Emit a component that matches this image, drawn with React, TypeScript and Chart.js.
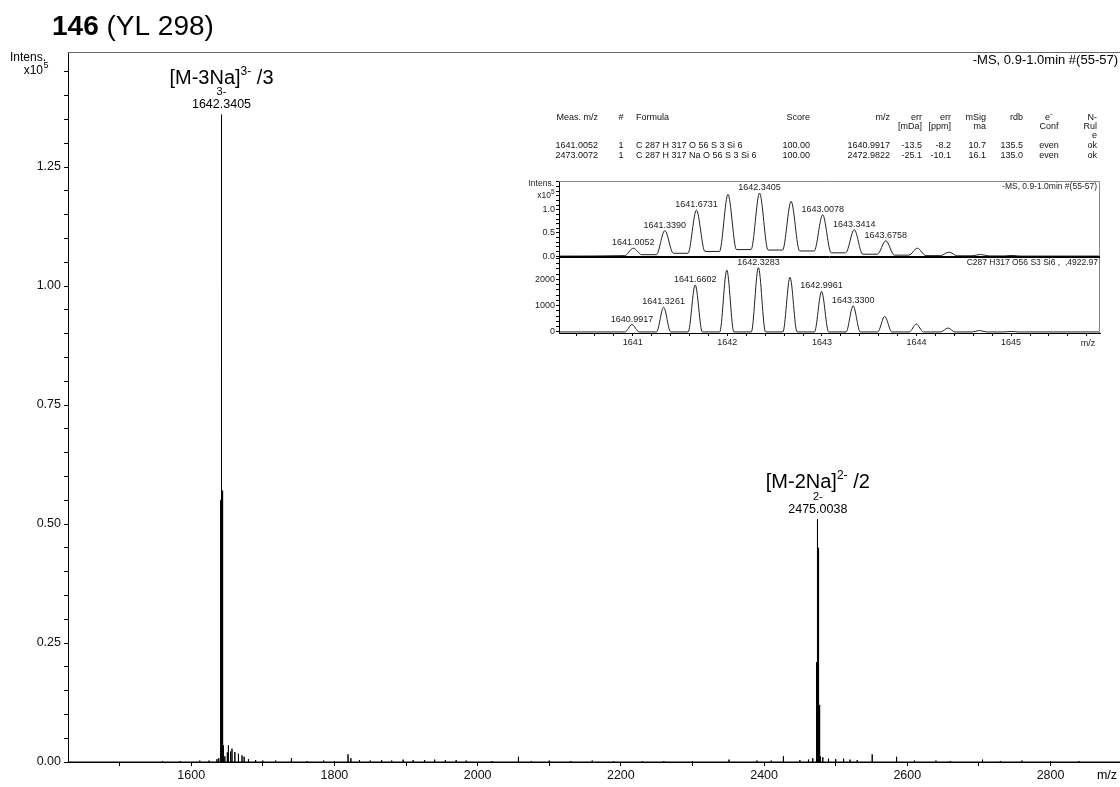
import React, { useEffect, useRef } from 'react';
import { Chart, registerables } from 'chart.js';

Chart.register(...registerables);

const FONT = '"Liberation Sans", Arial, Helvetica, sans-serif';

// ---------- texts ----------
const titleBold = '146';
const titleRest = '(YL 298)';
const scanInfo = '-MS, 0.9-1.0min #(55-57)';
const simInfo = 'C287 H317 O56 S3 Si6 ,  ,4922.97';

// ---------- [M-3Na]3- isotope cluster, measured (intensity x10^5) ----------
const clusterMz3 = [1641.0052, 1641.339, 1641.6731, 1642.0065, 1642.3405, 1642.674, 1643.0078, 1643.3414, 1643.6758, 1644.009, 1644.343, 1644.677, 1645.011];
const clusterInt3 = [0.17, 0.55, 0.99, 1.33, 1.36, 1.18, 0.89, 0.57, 0.33, 0.17, 0.085, 0.035, 0.013];
const clusterValley3 = [0.01, 0.03, 0.06, 0.1, 0.14, 0.13, 0.11, 0.07, 0.04, 0.02, 0.01, 0.006, 0.003, 0];
const clusterLabel3 = ['1641.0052', '1641.3390', '1641.6731', '', '1642.3405', '', '1643.0078', '1643.3414', '1643.6758', '', '', '', ''];

// ---------- [M-2Na]2- isotope cluster (intensity x10^5) ----------
const clusterMz2 = [2473.0072, 2473.507, 2474.008, 2474.509, 2475.0038, 2475.51, 2476.011, 2476.512, 2477.013, 2477.514, 2478.015, 2478.516];
const clusterInt2 = [0.06, 0.21, 0.38, 0.5, 0.51, 0.45, 0.34, 0.22, 0.12, 0.06, 0.03, 0.012];

// ---------- minor peaks in the full spectrum (intensity x10^5) ----------
const minorMz = [1560, 1585, 1612, 1625, 1636, 1638.5, 1647, 1650.5, 1652, 1655, 1657, 1661, 1666, 1671, 1674, 1680, 1690, 1700, 1718, 1740, 1762, 1785, 1800, 1819, 1823, 1835, 1850, 1866, 1880, 1896, 1910, 1926, 1940, 1955, 1970, 1984, 2020, 2057, 2075, 2100, 2130, 2160, 2190, 2230, 2260, 2300, 2351, 2390, 2410, 2427, 2450, 2462, 2468, 2482, 2490, 2500, 2511, 2520, 2530, 2551, 2585, 2610, 2640, 2660, 2705, 2730, 2760, 2800, 2840];
const minorInt = [0.002, 0.002, 0.003, 0.003, 0.006, 0.008, 0.012, 0.02, 0.035, 0.022, 0.028, 0.021, 0.0175, 0.014, 0.011, 0.006, 0.004, 0.003, 0.003, 0.008, 0.002, 0.003, 0.002, 0.016, 0.008, 0.004, 0.003, 0.004, 0.003, 0.005, 0.004, 0.004, 0.005, 0.004, 0.004, 0.003, 0.002, 0.011, 0.002, 0.003, 0.002, 0.003, 0.002, 0.002, 0.002, 0.002, 0.005, 0.003, 0.003, 0.012, 0.004, 0.005, 0.008, 0.01, 0.007, 0.006, 0.007, 0.005, 0.004, 0.016, 0.011, 0.003, 0.003, 0.002, 0.005, 0.002, 0.003, 0.002, 0.002];

// ---------- simulated pattern C287 H317 O56 S3 Si6 ----------
const simMz = [1640.9917, 1641.3261, 1641.6602, 1641.9942, 1642.3283, 1642.6622, 1642.9961, 1643.33, 1643.664, 1643.9979, 1644.3318, 1644.6657, 1644.9996];
const simInt = [280, 940, 1790, 2350, 2450, 2080, 1540, 990, 590, 300, 150, 55, 20];
const simValley = [0, 0, 0, 0, 0, 0, 0, 0, 0, 0, 0, 0, 0, 0];
const simLabel = ['1640.9917', '1641.3261', '1641.6602', '', '1642.3283', '', '1642.9961', '1643.3300', '', '', '', '', ''];

// ---------- peak annotations ----------
const annIon = ['[M-3Na]', '[M-2Na]'];
const annCharge = ['3-', '2-'];
const annDiv = [' /3', ' /2'];
const annMass = ['1642.3405', '2475.0038'];

// ---------- tick labels ----------
const mainXLabels = [1600, 1800, 2000, 2200, 2400, 2600, 2800];
const mainYLabels = [0, 0.25, 0.5, 0.75, 1.0, 1.25];
const insetXLabels = [1641, 1642, 1643, 1644, 1645];
const upperYLabels = [0, 0.5, 1.0];
const lowerYLabels = [0, 1000, 2000];

// ---------- formula table ----------
const tableHead1 = ['Meas. m/z', '#', 'Formula', 'Score', 'm/z', 'err', 'err', 'mSig', 'rdb', 'e\u207B', 'N-'];
const tableHead2 = ['', '', '', '', '', '[mDa]', '[ppm]', 'ma', '', 'Conf', 'Rul'];
const tableHead3 = ['', '', '', '', '', '', '', '', '', '', 'e'];
const tableRow1 = ['1641.0052', '1', 'C 287 H 317 O 56 S 3 Si 6', '100.00', '1640.9917', '-13.5', '-8.2', '10.7', '135.5', 'even', 'ok'];
const tableRow2 = ['2473.0072', '1', 'C 287 H 317 Na O 56 S 3 Si 6', '100.00', '2472.9822', '-25.1', '-10.1', '16.1', '135.0', 'even', 'ok'];

// layout (not data)
const MAIN_X = { min: 1428, max: 2897 };
const MAIN_Y = { min: 0, max: 1.4916 };
const INSET_X = { min: 1640.22, max: 1645.94 };
const colX = [598, 621, 636, 810, 890, 922, 951, 986, 1023, 1049, 1097];
const colAlign: CanvasTextAlign[] = ['right', 'center', 'left', 'right', 'right', 'right', 'right', 'right', 'right', 'center', 'right'];

type Pt = { x: number; y: number };

function buildSticks(groups: Array<[number[], number[]]>, xMin: number, xMax: number): Pt[] {
  const pairs: Array<[number, number]> = [];
  groups.forEach(([m, h]) => m.forEach((v, i) => pairs.push([v, h[i]])));
  pairs.sort((a, b) => a[0] - b[0]);
  const pts: Pt[] = [{ x: xMin, y: 0 }];
  pairs.forEach(([m, h]) => {
    pts.push({ x: m, y: 0 }, { x: m, y: h }, { x: m, y: 0 });
  });
  pts.push({ x: xMax, y: 0 });
  return pts;
}

function buildProfile(mz: number[], inten: number[], valleys: number[], hw: number, xMin: number, xMax: number): Pt[] {
  const pts: Pt[] = [{ x: xMin, y: 0 }];
  mz.forEach((m, i) => {
    pts.push({ x: m - hw, y: valleys[i] }, { x: m, y: inten[i] }, { x: m + hw, y: valleys[i + 1] });
  });
  pts.push({ x: xMax, y: 0 });
  return pts;
}

const near = (list: number[], v: number, eps: number) => list.find((l) => Math.abs(l - v) < eps);

const mainDecor = {
  id: 'mainDecor',
  afterDraw(chart: any) {
    const { ctx, chartArea: a, scales } = chart;
    const xs = scales.x;
    const ys = scales.y;
    ctx.save();
    ctx.strokeStyle = '#666';
    ctx.lineWidth = 1;
    ctx.beginPath();
    ctx.moveTo(a.left, a.top + 0.5);
    ctx.lineTo(a.right, a.top + 0.5);
    ctx.stroke();

    ctx.fillStyle = '#000';
    ctx.textBaseline = 'alphabetic';
    ctx.textAlign = 'left';
    ctx.font = `bold 28px ${FONT}`;
    ctx.fillText(titleBold, 52, 35);
    const tw = ctx.measureText(titleBold + ' ').width;
    ctx.font = `28px ${FONT}`;
    ctx.fillText(titleRest, 52 + tw, 35);

    ctx.textBaseline = 'middle';
    ctx.textAlign = 'right';
    ctx.font = `12px ${FONT}`;
    ctx.fillText('Intens.', 46, 58);
    ctx.fillText('x10', 43, 71);
    ctx.textAlign = 'left';
    ctx.font = `9px ${FONT}`;
    ctx.fillText('5', 43.5, 66);

    ctx.textAlign = 'right';
    ctx.font = `13px ${FONT}`;
    ctx.fillText(scanInfo, 1118, 60);

    ctx.textAlign = 'center';
    ctx.font = `12.5px ${FONT}`;
    ctx.fillText('m/z', 1107, a.bottom + 14);

    ctx.font = `9px ${FONT}`;
    ctx.fillStyle = '#111';
    const rows: Array<[string[], number]> = [
      [tableHead1, 118],
      [tableHead2, 127],
      [tableHead3, 136],
      [tableRow1, 146],
      [tableRow2, 156],
    ];
    rows.forEach(([cells, y]) => {
      cells.forEach((c, i) => {
        if (!c) return;
        ctx.textAlign = colAlign[i];
        ctx.fillText(c, colX[i], y);
      });
    });

    ctx.fillStyle = '#000';
    const clusters: Array<[number[], number[]]> = [
      [clusterMz3, clusterInt3],
      [clusterMz2, clusterInt2],
    ];
    clusters.forEach(([mz, h], k) => {
      let mi = 0;
      h.forEach((v, i) => {
        if (v > h[mi]) mi = i;
      });
      const px = xs.getPixelForValue(mz[mi]);
      const py = ys.getPixelForValue(h[mi]);
      ctx.textAlign = 'center';
      ctx.textBaseline = 'middle';
      ctx.font = `12.5px ${FONT}`;
      ctx.fillText(annMass[k], px, py - 10);
      ctx.font = `11px ${FONT}`;
      ctx.fillText(annCharge[k], px, py - 22.5);
      ctx.textBaseline = 'alphabetic';
      ctx.textAlign = 'left';
      ctx.font = `20px ${FONT}`;
      const w1 = ctx.measureText(annIon[k]).width;
      const w3 = ctx.measureText(annDiv[k]).width;
      ctx.font = `12px ${FONT}`;
      const w2 = ctx.measureText(annCharge[k]).width;
      const start = px - (w1 + w2 + w3) / 2;
      const base = py - 31;
      ctx.font = `20px ${FONT}`;
      ctx.fillText(annIon[k], start, base);
      ctx.fillText(annDiv[k], start + w1 + w2, base);
      ctx.font = `12px ${FONT}`;
      ctx.fillText(annCharge[k], start + w1, base - 9);
    });
    ctx.restore();
  },
};

function insetDecor(kind: 'upper' | 'lower') {
  return {
    id: 'insetDecor_' + kind,
    afterDatasetsDraw(chart: any) {
      const { ctx, chartArea: a, scales } = chart;
      const xs = scales.x;
      const ys = scales.y;
      ctx.save();
      ctx.strokeStyle = '#888';
      ctx.lineWidth = 1;
      if (kind === 'upper') {
        ctx.beginPath();
        ctx.moveTo(a.left, a.top + 0.5);
        ctx.lineTo(a.right - 0.5, a.top + 0.5);
        ctx.lineTo(a.right - 0.5, a.bottom);
        ctx.stroke();
        ctx.strokeStyle = '#000';
        ctx.beginPath();
        ctx.moveTo(a.left, a.bottom - 0.5);
        ctx.lineTo(a.right, a.bottom - 0.5);
        ctx.stroke();
      } else {
        ctx.beginPath();
        ctx.moveTo(a.right - 0.5, a.top);
        ctx.lineTo(a.right - 0.5, a.bottom);
        ctx.stroke();
        ctx.strokeStyle = '#000';
        ctx.beginPath();
        ctx.moveTo(a.left, a.top + 0.5);
        ctx.lineTo(a.right, a.top + 0.5);
        ctx.stroke();
      }
      const mz = kind === 'upper' ? clusterMz3 : simMz;
      const h = kind === 'upper' ? clusterInt3 : simInt;
      const lab = kind === 'upper' ? clusterLabel3 : simLabel;
      ctx.fillStyle = '#222';
      ctx.font = `9px ${FONT}`;
      ctx.textAlign = 'center';
      ctx.textBaseline = 'alphabetic';
      lab.forEach((t, i) => {
        if (!t) return;
        ctx.fillText(t, xs.getPixelForValue(mz[i]), ys.getPixelForValue(h[i]) - 3);
      });
      ctx.textAlign = 'right';
      ctx.textBaseline = 'middle';
      ctx.font = `8.5px ${FONT}`;
      if (kind === 'upper') {
        ctx.fillText(scanInfo, a.right - 3, a.top + 6);
        ctx.fillText('Intens.', a.left - 5, a.top + 3);
        ctx.fillText('x10', a.left - 8, a.top + 15);
        ctx.textAlign = 'left';
        ctx.font = `6.5px ${FONT}`;
        ctx.fillText('5', a.left - 8, a.top + 11);
      } else {
        ctx.fillText(simInfo, a.right - 2, a.top + 6);
        ctx.textAlign = 'center';
        ctx.font = `9px ${FONT}`;
        ctx.fillText('m/z', a.right - 12, a.bottom + 11);
      }
      ctx.restore();
    },
  };
}

function zeroPad(s: any) {
  s.paddingTop = 0;
  s.paddingBottom = 0;
  s.paddingLeft = 0;
  s.paddingRight = 0;
}

export default function App() {
  const mainRef = useRef<HTMLCanvasElement>(null);
  const upRef = useRef<HTMLCanvasElement>(null);
  const lowRef = useRef<HTMLCanvasElement>(null);

  useEffect(() => {
    const charts: Chart[] = [];
    const mainPts = buildSticks(
      [
        [clusterMz3, clusterInt3],
        [clusterMz2, clusterInt2],
        [minorMz, minorInt],
      ],
      MAIN_X.min,
      MAIN_X.max
    );
    const axisFont = { family: FONT, size: 12.5 };
    charts.push(
      new Chart(mainRef.current as HTMLCanvasElement, {
        type: 'line',
        data: {
          datasets: [
            {
              data: mainPts as any,
              borderColor: '#000',
              borderWidth: 1,
              pointRadius: 0,
              tension: 0,
              fill: false,
            },
          ],
        },
        options: {
          animation: false,
          responsive: false,
          events: [],
          layout: { padding: { left: 0, right: 0, top: 52, bottom: 0 } },
          plugins: { legend: { display: false }, tooltip: { enabled: false } },
          scales: {
            x: {
              type: 'linear',
              min: MAIN_X.min,
              max: MAIN_X.max,
              border: { display: true, color: '#000', width: 1 },
              grid: { display: true, drawOnChartArea: false, drawTicks: true, tickLength: 4, color: '#000' },
              ticks: {
                stepSize: 100,
                includeBounds: false,
                autoSkip: false,
                maxRotation: 0,
                padding: 2,
                color: '#111',
                font: axisFont,
                callback: (v: any) => {
                  const m = near(mainXLabels, Number(v), 1e-6);
                  return m === undefined ? '' : String(m);
                },
              },
              afterFit: (s: any) => {
                s.height = 25;
                zeroPad(s);
              },
            } as any,
            y: {
              type: 'linear',
              min: MAIN_Y.min,
              max: MAIN_Y.max,
              border: { display: true, color: '#000', width: 1 },
              grid: { display: true, drawOnChartArea: false, drawTicks: true, tickLength: 4, color: '#000' },
              ticks: {
                stepSize: 0.05,
                includeBounds: false,
                autoSkip: false,
                padding: 3,
                color: '#111',
                font: axisFont,
                callback: (v: any) => {
                  const m = near(mainYLabels, Number(v), 1e-6);
                  return m === undefined ? '' : m.toFixed(2);
                },
              },
              afterFit: (s: any) => {
                s.width = 68;
                zeroPad(s);
              },
            } as any,
          },
        },
        plugins: [mainDecor],
      })
    );

    const insetFont = { family: FONT, size: 9 };
    const insetX = (show: boolean) =>
      ({
        type: 'linear',
        min: INSET_X.min,
        max: INSET_X.max,
        display: show,
        border: { display: true, color: '#000', width: 1 },
        grid: { display: true, drawOnChartArea: false, drawTicks: true, tickLength: 3, color: '#000' },
        ticks: {
          stepSize: 0.2,
          includeBounds: false,
          autoSkip: false,
          maxRotation: 0,
          padding: 1,
          color: '#222',
          font: insetFont,
          callback: (v: any) => {
            const m = near(insetXLabels, Number(v), 1e-4);
            return m === undefined ? '' : String(m);
          },
        },
        afterFit: (s: any) => {
          s.height = show ? 22 : 0;
          zeroPad(s);
        },
      } as any);
    const insetY = (min: number, max: number, step: number, labels: number[], digits: number) =>
      ({
        type: 'linear',
        min,
        max,
        border: { display: true, color: '#000', width: 1 },
        grid: { display: true, drawOnChartArea: false, drawTicks: true, tickLength: 3, color: '#000' },
        ticks: {
          stepSize: step,
          includeBounds: false,
          autoSkip: false,
          padding: 1,
          color: '#222',
          font: insetFont,
          callback: (v: any) => {
            const m = near(labels, Number(v), step / 1000);
            return m === undefined ? '' : m.toFixed(digits);
          },
        },
        afterFit: (s: any) => {
          s.width = 59;
          zeroPad(s);
        },
      } as any);

    charts.push(
      new Chart(upRef.current as HTMLCanvasElement, {
        type: 'line',
        data: {
          datasets: [
            {
              data: buildProfile(clusterMz3, clusterInt3, clusterValley3, 0.09, INSET_X.min, INSET_X.max) as any,
              borderColor: '#222',
              borderWidth: 1,
              pointRadius: 0,
              cubicInterpolationMode: 'monotone',
              fill: false,
            },
          ],
        },
        options: {
          animation: false,
          responsive: false,
          events: [],
          layout: { padding: { left: 0, right: 10, top: 11, bottom: 8 } },
          plugins: { legend: { display: false }, tooltip: { enabled: false } },
          scales: {
            x: insetX(false),
            y: insetY(-0.02, 1.62, 0.1, upperYLabels, 1),
          },
        },
        plugins: [insetDecor('upper')],
      })
    );

    charts.push(
      new Chart(lowRef.current as HTMLCanvasElement, {
        type: 'line',
        data: {
          datasets: [
            {
              data: buildProfile(simMz, simInt, simValley, 0.075, INSET_X.min, INSET_X.max) as any,
              borderColor: '#222',
              borderWidth: 1,
              pointRadius: 0,
              cubicInterpolationMode: 'monotone',
              fill: false,
            },
          ],
        },
        options: {
          animation: false,
          responsive: false,
          events: [],
          layout: { padding: { left: 0, right: 10, top: 7, bottom: 7 } },
          plugins: { legend: { display: false }, tooltip: { enabled: false } },
          scales: {
            x: insetX(true),
            y: insetY(-40, 2850, 200, lowerYLabels, 0),
          },
        },
        plugins: [insetDecor('lower')],
      })
    );

    return () => charts.forEach((c) => c.destroy());
  }, []);

  return (
    <div style={{ position: 'fixed', left: 0, top: 0, width: 1120, height: 787, background: '#fff', overflow: 'hidden' }}>
      <canvas ref={mainRef} width={1120} height={787} style={{ position: 'absolute', left: 0, top: 0 }} />
      <canvas ref={upRef} width={610} height={95} style={{ position: 'absolute', left: 500, top: 170 }} />
      <canvas ref={lowRef} width={610} height={112} style={{ position: 'absolute', left: 500, top: 250 }} />
    </div>
  );
}
